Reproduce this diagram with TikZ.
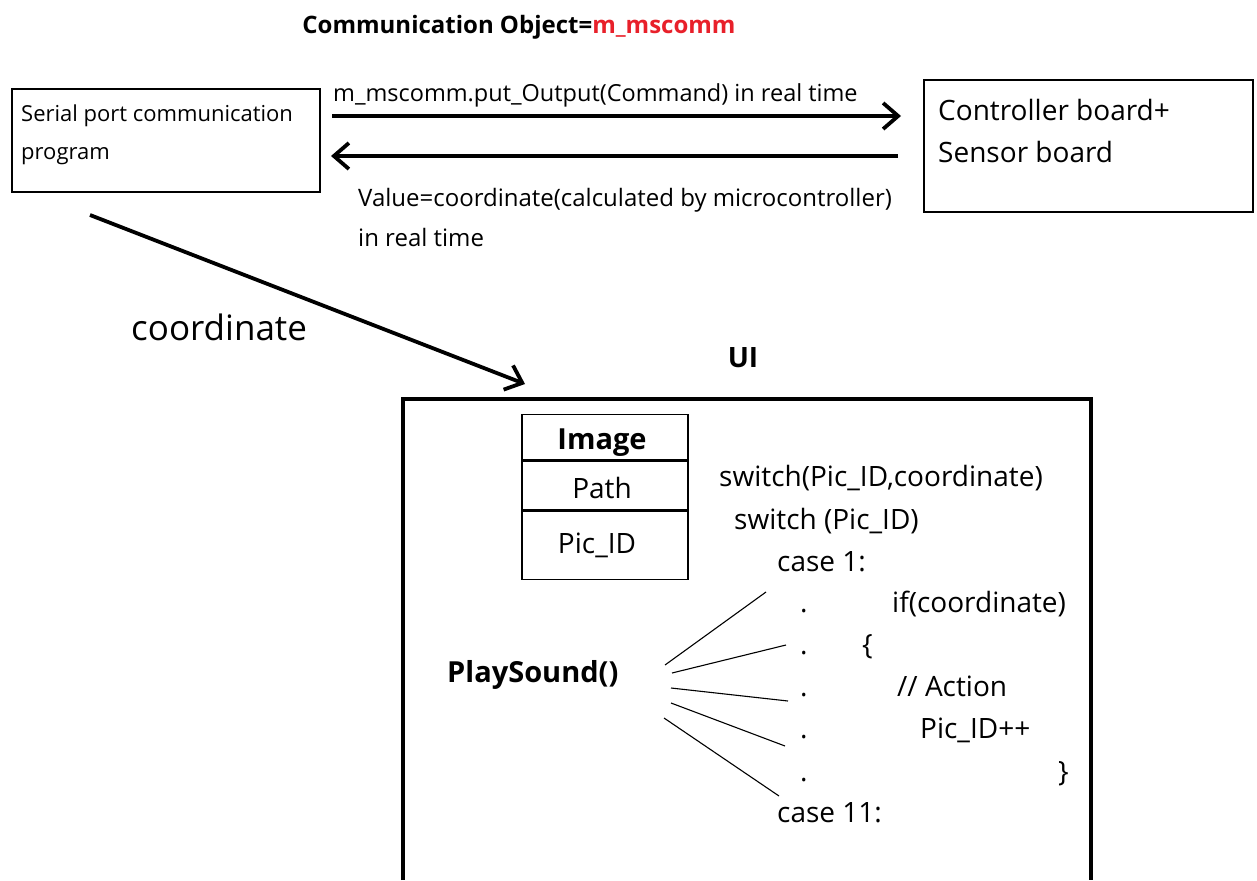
\documentclass[tikz,border=0pt]{standalone}
\usepackage{fontspec}
\setmainfont{Open Sans}
\usetikzlibrary{arrows.meta}
\definecolor{objred}{HTML}{E8202A}
\tikzset{
  lbl/.style={inner sep=0pt, anchor=mid west, font=\fontsize{23}{26}\selectfont},
  code/.style={inner sep=0pt, anchor=mid west, font=\fontsize{28}{32}\selectfont},
  celltxt/.style={inner sep=0pt, anchor=mid, font=\fontsize{28}{32}\selectfont},
  thinbox/.style={draw, line width=1.3pt},
  bigarrow/.style={line width=3.8pt, -{Straight Barb[length=15pt,width=26pt]}},
  fan/.style={line width=1.1pt},
  cell/.style={draw, line width=1.3pt, minimum width=166pt, inner sep=0pt, anchor=north}
}
\begin{document}
\begin{tikzpicture}[x=1pt,y=-1pt]
\useasboundingbox (0,0) rectangle (1257,880);

% heading
\node[inner sep=0pt, font=\bfseries\fontsize{24}{28}\selectfont] (title) at (519,27)
  {Communication Object=\textcolor{objred}{m\_mscomm}};

% serial program and controller boards
\node[thinbox, minimum width=308pt, minimum height=103pt] (serial) at (166,140.5) {};
\node[lbl, font=\fontsize{22}{26}\selectfont] (serialtxt1) at (21,119) {Serial port communication};
\node[lbl, font=\fontsize{22}{26}\selectfont] (serialtxt2) at (21,157) {program};

\node[thinbox, minimum width=329pt, minimum height=132pt] (board) at (1088.5,146) {};
\node[lbl, font=\fontsize{28}{32}\selectfont] (boardtxt1) at (938,118) {Controller board+};
\node[lbl, font=\fontsize{28}{32}\selectfont] (boardtxt2) at (938,160) {Sensor board};

% serial link
\coordinate (outA) at (332,116);
\coordinate (outB) at (901,116);
\coordinate (inA) at (898,156);
\coordinate (inB) at (331,156);
\draw[bigarrow] (outA) -- (outB);
\draw[bigarrow] (inA) -- (inB);
\node[lbl, font=\fontsize{23.5}{26}\selectfont] (outlbl) at (333,99) {m\_mscomm.put\_Output(Command) in real time};
\node[lbl, font=\fontsize{24}{26}\selectfont] (inlbl1) at (358,204) {Value=coordinate(calculated by microcontroller)};
\node[lbl, font=\fontsize{24}{26}\selectfont] (inlbl2) at (358,244) {in real time};

% coordinate feed into the UI
\coordinate (feedA) at (90,215);
\coordinate (feedB) at (525,384);
\draw[bigarrow] (feedA) -- (feedB);
\node[lbl, font=\fontsize{35}{40}\selectfont] (feedlbl) at (131,338) {coordinate};

% UI frame
\node[inner sep=0pt, font=\bfseries\fontsize{28}{32}\selectfont] (uilbl) at (743,358) {UI};
\draw[line width=3.5pt] (403,880) -- (403,399) -- (1091,399) -- (1091,880);

% Image table
\node[cell, minimum height=45pt] (imghead) at (605,414) {};
\node[cell, minimum height=49pt] (imgpath) at (imghead.south) {};
\node[cell, minimum height=68pt] (imgid) at (imgpath.south) {};
\node[celltxt, font=\bfseries\fontsize{29}{32}\selectfont] (imgheadtxt) at (602,447) {Image};
\node[celltxt] (imgpathtxt) at (602,496) {Path};
\node[celltxt] (imgidtxt) at (597,551) {Pic\_ID};

% switch code
\node[code] (sw1) at (719,484) {switch(Pic\_ID,coordinate)};
\node[code] (sw2) at (734,527) {switch (Pic\_ID)};
\node[code] (case1) at (777,569) {case 1:};
\foreach \y/\n in {610/1,652/2,694/3,736/4,779/5}
  \node[code] (dot\n) at (800,\y) {.};
\node[code] (ifc) at (892,610) {if(coordinate)};
\node[code] (lbr) at (862,652) {\{};
\node[code] (act) at (897,694) {// Action};
\node[code] (inc) at (920,736) {Pic\_ID++};
\node[code] (rbr) at (1058,779) {\}};
\node[code] (case11) at (777,820) {case 11:};

% PlaySound and its fan of links
\node[code, font=\bfseries\fontsize{29}{32}\selectfont] (play) at (447,680) {PlaySound()};
\coordinate (f1a) at (665,665); \coordinate (f1b) at (766,592);
\coordinate (f2a) at (672,673); \coordinate (f2b) at (786,645);
\coordinate (f3a) at (671,688); \coordinate (f3b) at (788,701);
\coordinate (f4a) at (671,703); \coordinate (f4b) at (785,746);
\coordinate (f5a) at (664,718); \coordinate (f5b) at (779,796);
\draw[fan] (f1a) -- (f1b);
\draw[fan] (f2a) -- (f2b);
\draw[fan] (f3a) -- (f3b);
\draw[fan] (f4a) -- (f4b);
\draw[fan] (f5a) -- (f5b);
\end{tikzpicture}
\end{document}
